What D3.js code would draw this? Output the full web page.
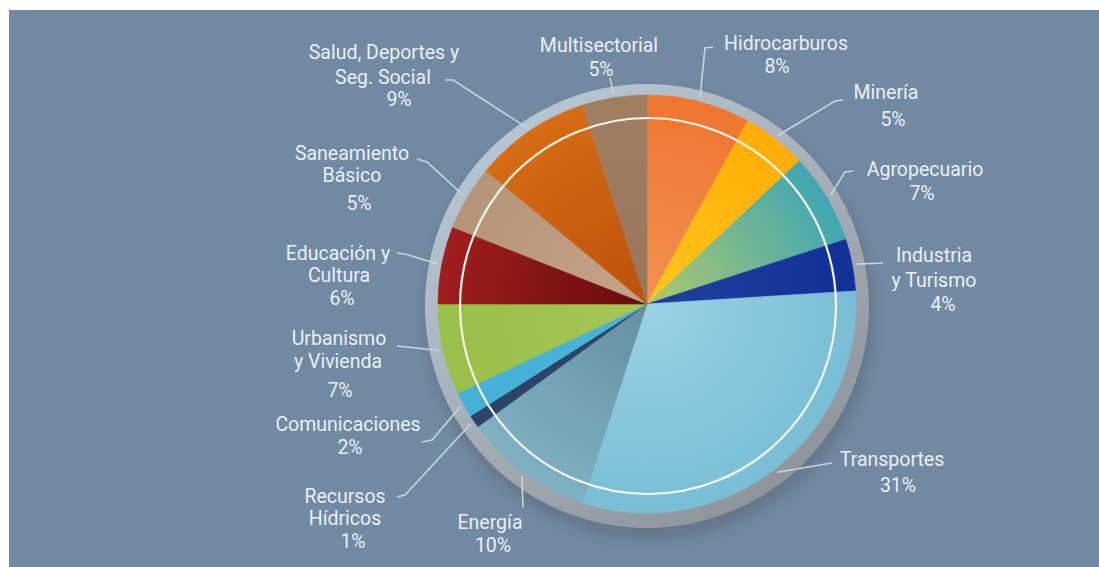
<!DOCTYPE html>
<html>
<head>
<meta charset="utf-8">
<script src="https://cdn.jsdelivr.net/npm/d3@7/dist/d3.min.js"></script>
<style>
  html, body { margin: 0; padding: 0; background: #ffffff; }
  svg { display: block; }
  text { font-family: Roboto, "Open Sans", sans-serif; }
</style>
</head>
<body>
<svg id="chart" width="1099" height="567"></svg>
<script>
// Investment share by sector (%)
const sectors = [
  "Hidrocarburos", "Minería", "Agropecuario", "Industria y Turismo", "Transportes",
  "Energía", "Recursos Hídricos", "Comunicaciones", "Urbanismo y Vivienda",
  "Educación y Cultura", "Saneamiento Básico", "Salud, Deportes y Seg. Social", "Multisectorial"
];
const shares = [8, 5, 7, 4, 31, 10, 1, 2, 7, 6, 5, 9, 5];
// how each sector name wraps onto lines
const nameLines = [
  ["Hidrocarburos"], ["Minería"], ["Agropecuario"], ["Industria", "y Turismo"], ["Transportes"],
  ["Energía"], ["Recursos", "Hídricos"], ["Comunicaciones"], ["Urbanismo", "y Vivienda"],
  ["Educación y", "Cultura"], ["Saneamiento", "Básico"], ["Salud, Deportes y", "Seg. Social"], ["Multisectorial"]
];

// slice fills: [near centre, towards rim]
const fills = [
  ["#f39150", "#ee7631"], ["#fdc61c", "#ffad05"], ["#b0c86a", "#40a7b3"], ["#20409f", "#123199"],
  ["#9ad1e2", "#79bed5"], ["#638fa1", "#7eb1c1"], ["#2c4567", "#2c4567"], ["#4bb3d8", "#45afd6"],
  ["#a6c655", "#98c048"], ["#680b0d", "#a01e1e"], ["#c4a387", "#b5957a"], ["#bc5109", "#d66c14"],
  ["#98765c", "#a07e62"]
];

// label placement: line centres [x, y] (name lines then percentage) and leader bends
const labelLayout = [
  { lines: [[786, 43], [777, 66]], leader: [[705, 48], [713, 47]] },
  { lines: [[886, 92], [893, 119]], leader: [[835, 101], [843, 100]] },
  { lines: [[925, 169], [922, 193]], leader: [[845, 172], [853, 171]] },
  { lines: [[934, 255], [934, 280], [943, 304]], leader: [[883, 263]] },
  { lines: [[892, 459], [898, 485]], leader: [[832, 463]] },
  { lines: [[490, 522], [493, 545]], leader: [[523, 507]] },
  { lines: [[345, 496], [345, 518], [353, 541]], leader: [[405, 495], [397, 497]] },
  { lines: [[348, 424], [350, 447]], leader: [[432, 440], [422, 442]] },
  { lines: [[339, 338], [338, 361], [340, 390]], leader: [[397, 346]] },
  { lines: [[338, 253], [339, 275], [342, 298]], leader: [[405, 254], [397, 253]] },
  { lines: [[352, 153], [352, 175], [359, 203]], leader: [[427, 162], [417, 159]] },
  { lines: [[384, 52], [383, 77], [399, 99]], leader: [[453, 80], [445, 80]] },
  { lines: [[599, 45], [601, 69]], leader: [[610, 78]] }
];

const cx = 647, cy = 304, R = 209;

const svg = d3.select("#chart");
const defs = svg.append("defs");

// backdrop panel
svg.append("rect").attr("x", 9).attr("y", 10).attr("width", 1090).attr("height", 557)
  .attr("fill", "#7189a1");

// soft shadow under the plate
defs.append("filter").attr("id", "soft").attr("x", "-20%").attr("y", "-20%").attr("width", "140%").attr("height", "140%")
  .append("feGaussianBlur").attr("stdDeviation", 6);
svg.append("circle").attr("cx", cx + 3).attr("cy", cy + 12).attr("r", 224)
  .attr("fill", "#5d6b79").attr("opacity", 0.55).attr("filter", "url(#soft)");

// grey plate around the pie
const plate = defs.append("linearGradient").attr("id", "plate")
  .attr("x1", "0.15").attr("y1", "0").attr("x2", "0.85").attr("y2", "1");
plate.append("stop").attr("offset", "0").attr("stop-color", "#b9cad8");
plate.append("stop").attr("offset", "0.55").attr("stop-color", "#a3abb3");
plate.append("stop").attr("offset", "1").attr("stop-color", "#8a8f95");
svg.append("circle").attr("cx", cx).attr("cy", cy + 2).attr("r", 222).attr("fill", "url(#plate)");

// per-slice radial gradients (in the pie group's local space, centred on 0,0)
fills.forEach((f, i) => {
  const gr = defs.append("radialGradient").attr("id", "g" + i)
    .attr("gradientUnits", "userSpaceOnUse")
    .attr("cx", 0).attr("cy", 0).attr("r", R);
  gr.append("stop").attr("offset", "0").attr("stop-color", f[0]);
  gr.append("stop").attr("offset", "1").attr("stop-color", f[1]);
});

const pie = d3.pie().sort(null).value(d => d).startAngle(0).endAngle(2 * Math.PI);
const arcs = pie(shares);
const arc = d3.arc().innerRadius(0).outerRadius(R);

const g = svg.append("g").attr("transform", `translate(${cx},${cy})`);
g.selectAll("path.slice").data(arcs).enter().append("path")
  .attr("class", "slice")
  .attr("d", arc)
  .attr("fill", (d, i) => `url(#g${i})`)
  .attr("stroke", (d, i) => `url(#g${i})`)
  .attr("stroke-width", 0.6);

// thin white ring over the pie
svg.append("circle").attr("cx", cx + 1).attr("cy", cy + 2).attr("r", 188)
  .attr("fill", "none").attr("stroke", "#f7f4ea").attr("stroke-width", 2.2);

// leader lines from each slice rim to its label
const rimArc = d3.arc().innerRadius(213).outerRadius(213);
const line = d3.line();
arcs.forEach((a, i) => {
  const c = rimArc.centroid(a);
  const pts = [[cx + c[0], cy + c[1]]].concat(labelLayout[i].leader);
  svg.append("path").attr("d", line(pts))
    .attr("fill", "none").attr("stroke", "#c9d4dc").attr("stroke-width", 1.6);
});

// labels: sector name lines + percentage
arcs.forEach((a, i) => {
  const texts = nameLines[i].concat([shares[i] + "%"]);
  texts.forEach((t, j) => {
    const p = labelLayout[i].lines[j];
    svg.append("text")
      .attr("x", p[0]).attr("y", p[1])
      .attr("text-anchor", "middle")
      .attr("dominant-baseline", "central")
      .attr("font-size", 19.5)
      .attr("fill", "#e9eff4")
      .text(t);
  });
});
</script>
</body>
</html>
